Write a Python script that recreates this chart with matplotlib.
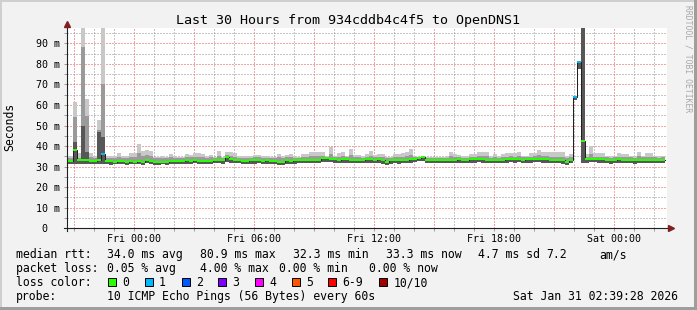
import numpy as np
import matplotlib
matplotlib.use('Agg')
import matplotlib.pyplot as plt
import matplotlib.dates as mdates
from matplotlib.ticker import MultipleLocator, FuncFormatter
from matplotlib.patches import Rectangle

W, H = 697, 310
plt.rcParams['font.family'] = ['DejaVu Sans Mono']

# smokeping data, 12 minute steps starting Thu 20:32 (ms)
t_start = np.datetime64('2026-01-29T20:32')
t_step = np.timedelta64(12, 'm')
t_from = np.datetime64('2026-01-29T20:39:28')
t_to = np.datetime64('2026-01-31T02:39:28')

median = [
    32.6, 32.6, 38.2, 33.0, 33.2, 33.0, 32.8, 32.9, 33.4, 36.3,
    32.8, 32.5, 32.4, 32.6, 32.5, 32.3, 32.5, 32.4, 32.6, 32.4,
    33.2, 32.8, 32.3, 32.3, 32.4, 32.3, 32.6, 32.8, 32.6, 32.7,
    33.0, 32.8, 33.2, 32.7, 32.9, 32.6, 32.8, 33.1, 33.4, 33.0,
    34.6, 33.5, 33.2, 33.4, 32.8, 32.9, 33.0, 33.0, 33.1, 32.9,
    33.0, 32.7, 32.7, 32.3, 32.4, 33.0, 32.9, 33.0, 33.2, 33.3,
    33.3, 33.4, 33.2, 33.3, 34.0, 34.1, 33.9, 33.5, 33.4, 33.6,
    33.5, 33.3, 33.2, 33.4, 33.3, 33.6, 33.5, 33.4, 33.6, 33.0,
    32.3, 33.0, 33.1, 33.0, 33.3, 33.3, 33.5, 33.7, 34.4, 34.5,
    33.4, 33.2, 33.3, 33.4, 33.2, 33.3, 33.4, 33.3, 33.5, 33.3,
    33.4, 33.6, 33.5, 33.7, 33.6, 33.4, 33.3, 33.4, 33.2, 33.4,
    33.6, 33.8, 33.5, 33.7, 33.4, 33.6, 33.5, 33.7, 33.9, 33.6,
    33.5, 33.4, 33.3, 33.2, 33.0, 32.3, 33.1, 64.0, 80.9, 42.4,
    33.6, 33.8, 33.7, 33.5, 33.6, 33.2, 33.0, 33.4, 33.5, 33.2,
    33.4, 33.3, 33.1, 33.4, 33.2, 33.3, 33.4, 33.3, 33.2, 33.3,
]
ping_max = [
    35.0, 35.0, 61.3, 36.4, 99.0, 63.0, 36.5, 35.3, 52.9, 99.0,
    35.0, 35.2, 35.0, 36.5, 35.2, 35.0, 36.8, 36.8, 41.2, 37.5,
    38.0, 37.5, 34.7, 34.7, 35.0, 34.7, 36.0, 34.7, 34.7, 34.7,
    36.3, 35.8, 36.7, 36.7, 36.3, 35.0, 35.7, 34.7, 37.5, 34.7,
    37.0, 37.0, 36.7, 35.0, 35.3, 35.3, 35.2, 35.5, 35.5, 35.0,
    35.0, 34.8, 34.8, 36.0, 35.0, 35.5, 36.0, 34.8, 34.8, 36.3,
    36.3, 37.0, 37.0, 37.0, 37.0, 35.0, 39.7, 35.0, 36.7, 37.0,
    35.2, 38.5, 35.5, 35.5, 35.0, 36.0, 37.5, 35.5, 36.0, 36.0,
    34.7, 34.7, 36.3, 36.3, 36.5, 37.3, 38.5, 35.0, 34.7, 34.7,
    34.7, 34.7, 34.7, 34.7, 34.7, 35.0, 37.0, 36.0, 35.5, 35.3,
    35.0, 36.3, 36.3, 37.0, 37.3, 37.3, 35.0, 36.3, 35.0, 36.3,
    36.6, 36.6, 36.6, 37.0, 35.4, 35.4, 36.6, 36.6, 37.9, 37.0,
    37.0, 37.0, 37.0, 37.0, 37.0, 35.4, 36.2, 64.5, 81.2, 99.0,
    36.2, 39.8, 36.6, 36.6, 36.6, 35.4, 35.4, 35.4, 36.6, 36.2,
    36.2, 35.4, 35.4, 37.0, 35.4, 36.6, 36.6, 35.4, 35.4, 35.4,
]
ping_upper = [
    34.0, 34.0, 54.0, 34.3, 88.3, 54.5, 34.5, 34.2, 48.0, 70.2,
    34.0, 34.1, 34.0, 34.6, 34.2, 34.0, 34.8, 34.7, 36.5, 35.2,
    35.5, 35.0, 34.0, 34.0, 34.2, 34.0, 34.6, 34.0, 34.0, 34.1,
    34.8, 34.5, 34.9, 34.8, 34.6, 34.2, 34.5, 34.1, 35.2, 34.1,
    35.6, 35.0, 34.8, 34.3, 34.4, 34.4, 34.3, 34.5, 34.5, 34.3,
    34.3, 34.1, 34.1, 34.6, 34.2, 34.5, 34.7, 34.2, 34.2, 34.8,
    34.8, 35.0, 35.0, 35.0, 35.2, 34.6, 36.0, 34.5, 34.9, 35.0,
    34.5, 35.5, 34.6, 34.6, 34.4, 34.8, 35.2, 34.6, 34.8, 34.8,
    34.0, 34.1, 34.8, 34.8, 34.8, 35.2, 35.6, 34.6, 34.9, 35.0,
    34.2, 34.2, 34.2, 34.3, 34.2, 34.3, 35.0, 34.7, 34.5, 34.4,
    34.4, 34.8, 34.8, 35.0, 35.2, 35.2, 34.4, 34.8, 34.3, 34.8,
    34.9, 35.0, 34.9, 35.2, 34.6, 34.6, 34.9, 35.0, 35.6, 35.1,
    35.0, 34.9, 34.9, 34.8, 34.7, 34.2, 34.6, 64.3, 81.0, 99.0,
    34.8, 36.0, 34.9, 34.9, 34.8, 34.5, 34.4, 34.6, 34.9, 34.6,
    34.7, 34.5, 34.3, 35.0, 34.5, 34.8, 34.8, 34.5, 34.4, 34.5,
]
ping_inner = [
    32.8, 32.8, 42.0, 33.2, 50.0, 37.0, 33.0, 33.1, 46.7, 44.3,
    33.0, 32.7, 32.6, 32.8, 32.7, 32.5, 32.7, 32.6, 32.8, 32.6,
    33.4, 33.0, 32.5, 32.5, 32.6, 32.5, 32.8, 33.0, 32.8, 32.9,
    33.2, 33.0, 33.4, 32.9, 33.1, 32.8, 33.0, 33.3, 33.6, 33.2,
    34.8, 33.7, 33.4, 33.6, 33.0, 33.1, 33.2, 33.2, 33.3, 33.1,
    33.2, 32.9, 32.9, 32.5, 32.6, 33.2, 33.1, 33.2, 33.4, 33.5,
    33.5, 33.6, 33.4, 33.5, 34.2, 34.3, 34.1, 33.7, 33.6, 33.8,
    33.7, 33.5, 33.4, 33.6, 33.5, 33.8, 33.7, 33.6, 33.8, 33.2,
    32.5, 33.2, 33.3, 33.2, 33.5, 33.5, 33.7, 33.9, 34.6, 34.7,
    33.6, 33.4, 33.5, 33.6, 33.4, 33.5, 33.6, 33.5, 33.7, 33.5,
    33.6, 33.8, 33.7, 33.9, 33.8, 33.6, 33.5, 33.6, 33.4, 33.6,
    33.8, 34.0, 33.7, 33.9, 33.6, 33.8, 33.7, 33.9, 34.1, 33.8,
    33.7, 33.6, 33.5, 33.4, 33.2, 32.5, 33.3, 64.0, 80.9, 99.0,
    33.8, 34.0, 33.9, 33.7, 33.8, 33.4, 33.2, 33.6, 33.7, 33.4,
    33.6, 33.5, 33.3, 33.6, 33.4, 33.5, 33.6, 33.5, 33.4, 33.5,
]
ping_min = [
    31.4, 31.5, 31.5, 31.3, 31.3, 31.4, 31.3, 31.4, 31.4, 31.4,
    31.2, 31.0, 31.2, 31.3, 31.1, 31.0, 31.2, 31.1, 31.3, 31.0,
    31.6, 31.4, 31.0, 30.9, 31.1, 31.0, 31.3, 31.4, 31.2, 31.3,
    31.5, 31.3, 31.6, 31.2, 31.4, 31.1, 31.3, 31.6, 31.8, 31.5,
    32.2, 31.8, 31.6, 31.8, 31.3, 31.4, 31.5, 31.5, 31.6, 31.4,
    31.5, 31.2, 31.2, 30.9, 31.0, 31.5, 31.4, 31.5, 31.7, 31.7,
    31.8, 31.8, 31.7, 31.8, 32.3, 32.4, 32.2, 31.9, 31.8, 32.0,
    31.9, 31.7, 31.7, 31.8, 31.7, 32.0, 31.9, 31.8, 32.0, 31.5,
    30.9, 31.5, 31.6, 31.5, 31.7, 31.7, 31.9, 32.1, 32.7, 32.8,
    31.8, 31.6, 31.7, 31.8, 31.6, 31.7, 31.8, 31.7, 31.9, 31.7,
    31.8, 32.0, 31.9, 32.1, 32.0, 31.8, 31.7, 31.8, 31.6, 31.8,
    32.0, 32.2, 31.9, 32.1, 31.8, 32.0, 31.9, 32.1, 32.3, 32.0,
    31.9, 31.8, 31.7, 31.6, 31.5, 31.0, 31.6, 62.6, 77.5, 31.6,
    32.0, 32.2, 32.1, 31.9, 32.0, 31.6, 31.5, 31.8, 31.9, 31.6,
    31.8, 31.7, 31.5, 31.8, 31.6, 31.7, 31.8, 31.7, 31.6, 31.7,
]
# lost pings out of 10, per step
lost = [0] * 150
lost[9] = 1
lost[127] = 1
lost[128] = 1

loss_names = ['0', '1', '2', '3', '4', '5', '6-9', '10/10']
loss_colors = ['#26ff00', '#00b8ff', '#0059ff', '#7e00ff', '#ff00ff', '#ff5500', '#ff0000', '#a10000']

stats_rtt = ['median rtt:', '34.0 ms avg', '80.9 ms max', '32.3 ms min', '33.3 ms now', '4.7 ms sd', '7.2', 'am/s']
stats_rtt_x = [16, 107, 200, 293, 386, 478, 546, 599]
stats_loss = ['packet loss:', '0.05 % avg', '4.00 % max', '0.00 % min', '0.00 % now']
stats_loss_x = [16, 107, 200, 279, 369]

FS = 8.3


def px(x, y):
    return x / W, 1 - y / H


def ext(a):
    a = np.asarray(a, dtype=float)
    return np.append(a, a[-1])


fig = plt.figure(figsize=(W / 100, H / 100), dpi=100, facecolor='#f2f2f2')

# frame shading
fig.add_artist(Rectangle(px(0, 2), 1, 2 / H, transform=fig.transFigure, color='#cfcfcf', lw=0))
fig.add_artist(Rectangle(px(0, H), 2 / W, 1, transform=fig.transFigure, color='#cfcfcf', lw=0))
fig.add_artist(Rectangle(px(0, H), 1, 3 / H, transform=fig.transFigure, color='#9e9e9e', lw=0))
fig.add_artist(Rectangle(px(W - 3, H), 3 / W, 1, transform=fig.transFigure, color='#9e9e9e', lw=0))

ax = fig.add_axes([67 / W, (H - 228.3) / H, 600 / W, 200 / H])
ax.set_facecolor('white')
ytop = 97.3

edges = t_start + np.arange(len(median) + 1) * t_step
ax.fill_between(edges, ext(ping_min), ext(ping_max), step='post', color='#c8c8c8', lw=0, zorder=2)
ax.fill_between(edges, ext(ping_min), ext(ping_upper), step='post', color='#9a9a9a', lw=0, zorder=3)
ax.fill_between(edges, ext(ping_min), ext(ping_inner), step='post', color='#575757', lw=0, zorder=4)

med = np.asarray(median, dtype=float)
ax.step(edges, ext(med), where='post', color='#202020', lw=0.72, zorder=5)

# loss coloured median blocks, 2 px high
sw = ytop / 200
xnum = mdates.date2num(edges)
cls = np.array([min(n, 6) if n < 10 else 7 for n in lost])
for k, c in enumerate(loss_colors):
    sel = cls == k
    if not sel.any():
        continue
    ax.bar(xnum[:-1][sel], 2 * sw, bottom=med[sel] - sw, width=np.diff(xnum)[sel],
           align='edge', color=c, lw=0, zorder=6)

ax.set_xlim(t_from, t_to)
ax.set_ylim(0, ytop)

ax.xaxis.set_major_locator(mdates.HourLocator(byhour=range(0, 24, 3)))
ax.xaxis.set_minor_locator(mdates.HourLocator())


def xfmt(v, pos):
    d = mdates.num2date(v)
    return d.strftime('%a %H:%M') if d.hour % 6 == 0 else ''


ax.xaxis.set_major_formatter(FuncFormatter(xfmt))
ax.yaxis.set_major_locator(MultipleLocator(10))
ax.yaxis.set_minor_locator(MultipleLocator(5))
ax.yaxis.set_major_formatter(FuncFormatter(lambda v, p: '0  ' if v == 0 else f'{v:.0f} m'))

ax.set_axisbelow(True)
ax.grid(which='minor', color=(0.56, 0.56, 0.56, 0.5), lw=0.72, ls=(0, (1, 2)))
ax.grid(which='major', color=(0.90, 0.30, 0.30, 0.5), lw=0.72, ls=(0, (1, 2)))
ax.tick_params(which='both', length=2, width=0.7, color='#9a9a9a', direction='out')
ax.tick_params(axis='x', labelsize=7.2, pad=2)
ax.tick_params(axis='y', labelsize=7.2, pad=3)
for s in ax.spines.values():
    s.set_visible(False)

# axes with arrows
ax.plot([-3 / 600, 1 + 5 / 600], [0, 0], transform=ax.transAxes, color='#1f1f1f', lw=0.8, clip_on=False, zorder=8)
ax.plot([0, 0], [-3 / 200, 1 + 4 / 200], transform=ax.transAxes, color='#1f1f1f', lw=0.8, clip_on=False, zorder=8)
ax.plot([1 + 4 / 600], [0], transform=ax.transAxes, marker='>', ms=4.5, color='#801f1f', clip_on=False, zorder=9)
ax.plot([0], [1 + 4.5 / 200], transform=ax.transAxes, marker='^', ms=4.5, color='#801f1f', clip_on=False, zorder=9)

fig.text(*px(347.5, 24), 'Last 30 Hours from 934cddb4c4f5 to OpenDNS1', ha='center', va='baseline', fontsize=9.6)
fig.text(*px(10, 127), 'Seconds', rotation=90, ha='center', va='center', fontsize=FS)
fig.text(*px(688, 5), 'RRDTOOL / TOBI OETIKER', rotation=270, ha='center', va='top', fontsize=5.8, color='#a8a8a8')

for s, x in zip(stats_rtt, stats_rtt_x):
    fig.text(*px(x, 258), s, va='baseline', fontsize=FS)
for s, x in zip(stats_loss, stats_loss_x):
    fig.text(*px(x, 272), s, va='baseline', fontsize=FS)

fig.text(*px(16, 286), 'loss color:', va='baseline', fontsize=FS)
bx = 108.3
for name, c in zip(loss_names, loss_colors):
    fig.add_artist(Rectangle(px(bx, 286), 8 / W, 8 / H, transform=fig.transFigure,
                             facecolor=c, edgecolor='black', lw=0.7))
    fig.text(*px(bx + 14, 286), name, va='baseline', fontsize=FS)
    bx += 22.7 + 7.0 * (len(name) + 1)

fig.text(*px(16, 300), 'probe:', va='baseline', fontsize=FS)
fig.text(*px(107, 300), '10 ICMP Echo Pings (56 Bytes) every 60s', va='baseline', fontsize=FS)
fig.text(*px(513, 300), 'Sat Jan 31 02:39:28 2026', va='baseline', fontsize=FS)

fig.savefig('out.png', dpi=100, facecolor=fig.get_facecolor())
